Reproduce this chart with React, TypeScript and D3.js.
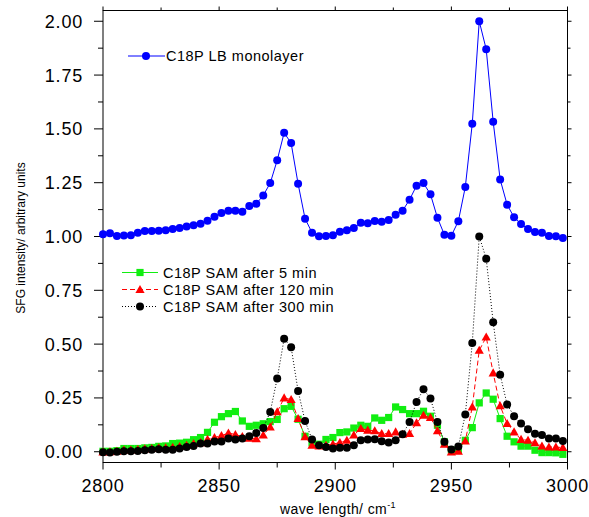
import React from "react";
import * as d3 from "d3";

const waveNumbers: number[] = Array.from({ length: 67 }, (_, i) => 2800 + 3 * i);

const lbMonolayer: number[] = [
  1.010, 1.015, 1.002, 1.005, 1.006, 1.018, 1.026, 1.026, 1.027, 1.029,
  1.035, 1.039, 1.047, 1.052, 1.059, 1.073, 1.092, 1.109, 1.120, 1.120,
  1.115, 1.142, 1.152, 1.191, 1.248, 1.354, 1.482, 1.434, 1.245, 1.083,
  1.018, 1.001, 1.002, 1.006, 1.022, 1.029, 1.039, 1.064, 1.061, 1.072,
  1.069, 1.077, 1.101, 1.120, 1.171, 1.236, 1.248, 1.196, 1.087, 1.008,
  1.004, 1.071, 1.230, 1.524, 2.000, 1.870, 1.533, 1.265, 1.148, 1.089,
  1.058, 1.035, 1.021, 1.018, 1.002, 1.001, 0.993,
];

const sam5: number[] = [
  0.002, 0.002, 0.005, 0.015, 0.015, 0.015, 0.018, 0.020, 0.025, 0.027,
  0.038, 0.040, 0.044, 0.056, 0.066, 0.090, 0.137, 0.163, 0.177, 0.187,
  0.143, 0.118, 0.123, 0.130, 0.140, 0.150, 0.200, 0.211, 0.151, 0.072,
  0.041, 0.035, 0.057, 0.066, 0.089, 0.092, 0.110, 0.123, 0.118, 0.157,
  0.146, 0.159, 0.208, 0.196, 0.177, 0.177, 0.188, 0.165, 0.123, 0.046,
  0.008, 0.007, 0.053, 0.112, 0.227, 0.273, 0.244, 0.154, 0.072, 0.046,
  0.026, 0.026, 0.007, -0.004, -0.004, -0.005, -0.012,
];

const sam120: number[] = [
  -0.002, 0.000, 0.002, 0.008, 0.008, 0.010, 0.013, 0.015, 0.018, 0.018,
  0.020, 0.024, 0.030, 0.038, 0.042, 0.058, 0.066, 0.075, 0.087, 0.080,
  0.070, 0.062, 0.060, 0.077, 0.115, 0.185, 0.250, 0.242, 0.154, 0.069,
  0.030, 0.026, 0.030, 0.035, 0.043, 0.053, 0.077, 0.108, 0.100, 0.097,
  0.084, 0.084, 0.092, 0.081, 0.084, 0.134, 0.169, 0.159, 0.097, 0.035,
  -0.001, 0.002, 0.050, 0.208, 0.471, 0.533, 0.366, 0.213, 0.131, 0.092,
  0.057, 0.053, 0.041, 0.026, 0.022, 0.022, 0.019,
];

const sam300: number[] = [
  -0.002, -0.004, 0.000, 0.002, 0.002, 0.003, 0.007, 0.009, 0.012, 0.009,
  0.009, 0.015, 0.022, 0.027, 0.038, 0.038, 0.047, 0.047, 0.061, 0.057,
  0.061, 0.072, 0.087, 0.110, 0.185, 0.340, 0.525, 0.486, 0.282, 0.143,
  0.057, 0.030, 0.022, 0.015, 0.018, 0.019, 0.030, 0.053, 0.057, 0.058,
  0.049, 0.043, 0.053, 0.081, 0.138, 0.231, 0.290, 0.247, 0.138, 0.046,
  0.010, 0.024, 0.173, 0.505, 1.000, 0.897, 0.602, 0.358, 0.220, 0.165,
  0.131, 0.104, 0.084, 0.078, 0.061, 0.061, 0.050,
];

const xMajorTicks: number[] = [2800, 2850, 2900, 2950, 3000];
const xMinorTicks: number[] = [2825, 2875, 2925, 2975];
const yMajorTicks: number[] = [0, 0.25, 0.5, 0.75, 1.0, 1.25, 1.5, 1.75, 2.0];
const yMinorTicks: number[] = [0.125, 0.375, 0.625, 0.875, 1.125, 1.375, 1.625, 1.875];

const legendTop = ["C18P LB monolayer"];
const legendBottom = ["C18P SAM after 5 min", "C18P SAM after 120 min", "C18P SAM after 300 min"];

const W = 589;
const H = 517;
const L = 103;
const R = 567.5;
const T = 10.5;
const B = 462.5;
const FONT = "'Liberation Sans', Arial, sans-serif";
const GREEN = "#11ee11";

type Marker = "circle" | "square" | "triangle";

function MarkerShape({ type, x, y, fill }: { type: Marker; x: number; y: number; fill: string }) {
  if (type === "circle") return <circle cx={x} cy={y} r={4} fill={fill} />;
  if (type === "square") return <rect x={x - 3.6} y={y - 3.6} width={7.2} height={7.2} fill={fill} />;
  const s = 4.6;
  return <path d={`M${x},${y - s}L${x + s},${y + s * 0.75}L${x - s},${y + s * 0.75}Z`} fill={fill} />;
}

export default function App() {
  const x = d3.scaleLinear().domain([2800, 3000]).range([L, R]);
  const y = d3.scaleLinear().domain([-0.05, 2.05]).range([B, T]);

  const line = (vals: number[]) =>
    d3
      .line<number>()
      .x((_, i) => x(waveNumbers[i]))
      .y((v) => y(v))(vals) || "";

  const series = [
    { vals: sam5, color: GREEN, dash: undefined as string | undefined, marker: "square" as Marker },
    { vals: sam120, color: "#ff0000", dash: "5,3", marker: "triangle" as Marker },
    { vals: sam300, color: "#000000", dash: "1,2", marker: "circle" as Marker },
  ];

  return (
    <svg width={W} height={H} style={{ display: "block", position: "absolute", left: 0, top: 0 }}>
      <rect x={0} y={0} width={W} height={H} fill="#fff" />
      {/* frame */}
      <rect x={L} y={T} width={R - L} height={B - T} fill="none" stroke="#000" strokeWidth={1} />
      {/* x ticks */}
      {xMajorTicks.map((t) => (
        <g key={"xm" + t}>
          <line x1={x(t)} x2={x(t)} y1={B} y2={B + 7} stroke="#000" />
          <line x1={x(t)} x2={x(t)} y1={T} y2={T - 4} stroke="#000" />
          <text x={x(t)} y={491.5} textAnchor="middle" fontFamily={FONT} fontSize={18} letterSpacing={0.8}>
            {t}
          </text>
        </g>
      ))}
      {xMinorTicks.map((t) => (
        <g key={"xn" + t}>
          <line x1={x(t)} x2={x(t)} y1={B} y2={B + 5} stroke="#000" />
          <line x1={x(t)} x2={x(t)} y1={T} y2={T - 3} stroke="#000" />
        </g>
      ))}
      {/* y ticks */}
      {yMajorTicks.map((t) => (
        <g key={"ym" + t}>
          <line x1={L} x2={L - 9} y1={y(t)} y2={y(t)} stroke="#000" />
          <line x1={R} x2={R + 4} y1={y(t)} y2={y(t)} stroke="#000" />
          <text x={83} y={y(t) + 6.5} textAnchor="end" fontFamily={FONT} fontSize={18} letterSpacing={0.8}>
            {t.toFixed(2)}
          </text>
        </g>
      ))}
      {yMinorTicks.map((t) => (
        <g key={"yn" + t}>
          <line x1={L} x2={L - 5} y1={y(t)} y2={y(t)} stroke="#000" />
          <line x1={R} x2={R + 3} y1={y(t)} y2={y(t)} stroke="#000" />
        </g>
      ))}
      {/* axis titles */}
      <text x={338} y={514} textAnchor="middle" fontFamily={FONT} fontSize={14} letterSpacing={0.4}>
        wave length/ cm<tspan dy={-6} fontSize={9}>-1</tspan>
      </text>
      <text
        transform={`translate(25,${238}) rotate(-90)`}
        textAnchor="middle"
        fontFamily={FONT}
        fontSize={12}
      >
        SFG intensity/ arbitrary units
      </text>

      {/* LB monolayer */}
      <path d={line(lbMonolayer)} fill="none" stroke="#0000ff" strokeWidth={1} />
      {lbMonolayer.map((v, i) => (
        <MarkerShape key={"b" + i} type="circle" x={x(waveNumbers[i])} y={y(v)} fill="#0000ff" />
      ))}

      {/* SAM series */}
      {series.map((s, si) => (
        <g key={"s" + si}>
          <path d={line(s.vals)} fill="none" stroke={s.color} strokeWidth={1} strokeDasharray={s.dash} />
          {s.vals.map((v, i) => (
            <MarkerShape key={i} type={s.marker} x={x(waveNumbers[i])} y={y(v)} fill={s.color} />
          ))}
        </g>
      ))}

      {/* legend top */}
      <line x1={128} x2={165} y1={56} y2={56} stroke="#0000ff" strokeWidth={1} />
      <MarkerShape type="circle" x={146} y={56} fill="#0000ff" />
      <text x={166} y={61} fontFamily={FONT} fontSize={14.5} letterSpacing={0.5}>
        {legendTop[0]}
      </text>

      {/* legend bottom */}
      {legendBottom.map((lab, i) => {
        const ly = 272.5 + i * 17;
        const s = series[i];
        return (
          <g key={"lg" + i}>
            <line x1={122} x2={158} y1={ly} y2={ly} stroke={s.color} strokeWidth={1} strokeDasharray={s.dash} />
            <MarkerShape type={s.marker} x={140} y={ly} fill={s.color} />
            <text x={163} y={ly + 5} fontFamily={FONT} fontSize={14.5} letterSpacing={0.5}>
              {lab}
            </text>
          </g>
        );
      })}
    </svg>
  );
}
